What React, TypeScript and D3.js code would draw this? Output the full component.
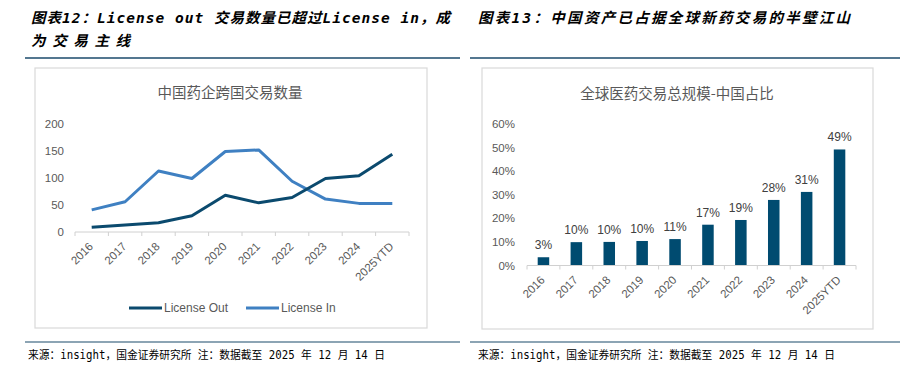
import React from "react";
import * as d3 from "d3";

const years = ["2016", "2017", "2018", "2019", "2020", "2021", "2022", "2023", "2024", "2025YTD"];
const licenseOut = [9, 13, 17, 30, 68, 54, 64, 99, 104, 144];
const licenseIn = [41, 56, 113, 99, 149, 152, 94, 61, 53, 53];
const yTicksLeft = [0, 50, 100, 150, 200];
const chinaShare = [3.5, 9.9, 10.0, 10.4, 11.2, 17.3, 19.3, 27.8, 31.2, 49.2];
const shareLabels = ["3%", "10%", "10%", "10%", "11%", "17%", "19%", "28%", "31%", "49%"];
const yTicksRight = [0, 10, 20, 30, 40, 50, 60];

const headerLeft1 = "图表12：License out 交易数量已超过License in，成";
const headerLeft2 = "为交易主线";
const headerRight = "图表13：中国资产已占据全球新药交易的半壁江山";
const chartTitleLeft = "中国药企跨国交易数量";
const chartTitleRight = "全球医药交易总规模-中国占比";
const footer = "来源：insight，国金证券研究所 注：数据截至 2025 年 12 月 14 日";
const legendNames = ["License Out", "License In"];

const DARK = "#0b4a6e";
const LIGHT = "#3f80c2";
const BAR = "#004b70";
const TXT = "#595959";
const AXIS = "#d0d0d0";
const RULE = "#1b4a6b";
const SANS = "Liberation Sans, Arial, 'Noto Sans CJK SC', sans-serif";
const CJK = "'Noto Sans CJK SC', Liberation Sans, sans-serif";
const HEAD = "'DejaVu Sans Mono', 'Noto Sans CJK SC', monospace";

function Header({ x, y, text, len }: { x: number; y: number; text: string; len: number }) {
  return (
    <text
      x={x}
      y={y}
      fontFamily={HEAD}
      fontSize={14.5}
      fontWeight="bold"
      fontStyle="italic"
      fill="#000"
      textLength={len}
      lengthAdjust="spacing"
    >
      {text}
    </text>
  );
}

export default function App() {
  const xL = d3.scaleBand<string>().domain(years).range([75, 409]);
  const yL = d3.scaleLinear().domain([0, 200]).range([232, 124]);
  const lineGen = d3
    .line<number>()
    .x((_, i) => (xL(years[i]) as number) + xL.bandwidth() / 2)
    .y((d) => yL(d));

  const xR = d3.scaleBand<string>().domain(years).range([527, 856]).paddingInner(0.65).paddingOuter(0.325);
  const xRb = d3.scaleBand<string>().domain(years).range([527, 856]);
  const yR = d3.scaleLinear().domain([0, 60]).range([265.5, 124]);

  const bounds = (sc: d3.ScaleBand<string>) => {
    const arr = years.map((y) => sc(y) as number);
    arr.push(sc.range()[1]);
    return arr;
  };

  return (
    <svg width={914} height={382} style={{ position: "absolute", left: 0, top: 0, background: "#fff" }}>
      <Header x={31} y={23} text={headerLeft1} len={419} />
      <Header x={31} y={46} text={headerLeft2} len={99} />
      <Header x={478} y={23} text={headerRight} len={372} />
      <line x1={25} x2={460} y1={58} y2={58} stroke={RULE} strokeWidth={1.5} />
      <line x1={470} x2={900} y1={58} y2={58} stroke={RULE} strokeWidth={1.5} />

      <rect x={35} y={68} width={392} height={260} fill="#fff" stroke="#d9d9d9" strokeWidth={1.2} />
      <rect x={482} y={68} width={391} height={261} fill="#fff" stroke="#d9d9d9" strokeWidth={1.2} />

      {/* left chart */}
      <text x={230} y={98} textAnchor="middle" fontFamily={CJK} fontSize={14.5} fill={TXT}>
        {chartTitleLeft}
      </text>
      {yTicksLeft.map((t) => (
        <text key={t} x={64} y={yL(t)} dy="0.35em" textAnchor="end" fontFamily={SANS} fontSize={11.5} fill={TXT}>
          {t}
        </text>
      ))}
      <line x1={75} x2={409} y1={yL(0)} y2={yL(0)} stroke={AXIS} strokeWidth={1} />
      {bounds(xL).map((b, i) => (
        <line key={i} x1={b} x2={b} y1={yL(0)} y2={yL(0) + 4} stroke={AXIS} strokeWidth={1} />
      ))}
      {years.map((y) => {
        const cx = (xL(y) as number) + xL.bandwidth() / 2;
        const py = yL(0) + 13;
        return (
          <text
            key={y}
            x={cx}
            y={py}
            transform={`rotate(-45 ${cx} ${py})`}
            textAnchor="end"
            dominantBaseline="middle"
            fontFamily={SANS}
            fontSize={11.5}
            fill={TXT}
          >
            {y}
          </text>
        );
      })}
      <path d={lineGen(licenseIn) || ""} fill="none" stroke={LIGHT} strokeWidth={3} strokeLinejoin="round" />
      <path d={lineGen(licenseOut) || ""} fill="none" stroke={DARK} strokeWidth={3} strokeLinejoin="round" />
      <line x1={129} x2={162} y1={308} y2={308} stroke={DARK} strokeWidth={3} />
      <text x={164} y={308} dy="0.35em" fontFamily={SANS} fontSize={12} fill={TXT}>
        {legendNames[0]}
      </text>
      <line x1={246} x2={279} y1={308} y2={308} stroke={LIGHT} strokeWidth={3} />
      <text x={281} y={308} dy="0.35em" fontFamily={SANS} fontSize={12} fill={TXT}>
        {legendNames[1]}
      </text>

      {/* right chart */}
      <text x={677} y={99} textAnchor="middle" fontFamily={CJK} fontSize={14.5} fill={TXT}>
        {chartTitleRight}
      </text>
      {yTicksRight.map((t) => (
        <text key={t} x={515} y={yR(t)} dy="0.35em" textAnchor="end" fontFamily={SANS} fontSize={11.5} fill={TXT}>
          {t + "%"}
        </text>
      ))}
      {years.map((y, i) => (
        <rect
          key={y}
          x={xR(y) as number}
          width={xR.bandwidth()}
          y={yR(chinaShare[i])}
          height={yR(0) - yR(chinaShare[i])}
          fill={BAR}
        />
      ))}
      {years.map((y, i) => (
        <text
          key={y}
          x={(xR(y) as number) + xR.bandwidth() / 2}
          y={yR(chinaShare[i]) - 8}
          textAnchor="middle"
          fontFamily={SANS}
          fontSize={12}
          fill="#404040"
        >
          {shareLabels[i]}
        </text>
      ))}
      <line x1={527} x2={856} y1={yR(0)} y2={yR(0)} stroke={AXIS} strokeWidth={1} />
      {bounds(xRb).map((b, i) => (
        <line key={i} x1={b} x2={b} y1={yR(0)} y2={yR(0) + 4} stroke={AXIS} strokeWidth={1} />
      ))}
      {years.map((y) => {
        const cx = (xRb(y) as number) + xRb.bandwidth() / 2;
        const py = yR(0) + 13;
        return (
          <text
            key={y}
            x={cx}
            y={py}
            transform={`rotate(-45 ${cx} ${py})`}
            textAnchor="end"
            dominantBaseline="middle"
            fontFamily={SANS}
            fontSize={11.5}
            fill={TXT}
          >
            {y}
          </text>
        );
      })}

      {/* footers */}
      <line x1={25} x2={460} y1={342} y2={342} stroke={RULE} strokeWidth={1.2} />
      <line x1={470} x2={900} y1={342} y2={342} stroke={RULE} strokeWidth={1.2} />
      <text x={28} y={359} fontFamily={HEAD} fontSize={11.5} fill="#000" textLength={357} lengthAdjust="spacingAndGlyphs">
        {footer}
      </text>
      <text x={478} y={359} fontFamily={HEAD} fontSize={11.5} fill="#000" textLength={357} lengthAdjust="spacingAndGlyphs">
        {footer}
      </text>
    </svg>
  );
}
